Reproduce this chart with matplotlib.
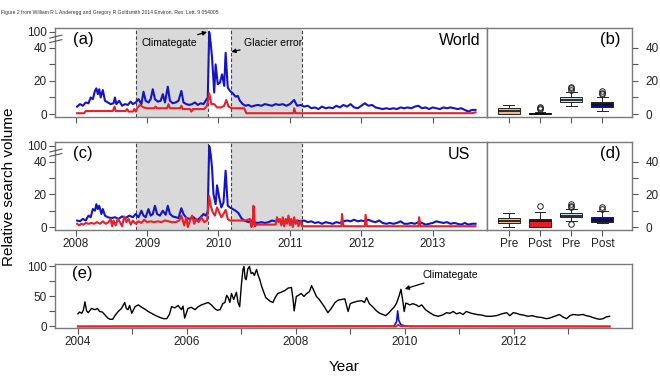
import numpy as np
import matplotlib
matplotlib.use('Agg')
import matplotlib.pyplot as plt
import matplotlib.transforms as mtransforms

plt.rcParams['font.family'] = ['Liberation Sans', 'DejaVu Sans']

# ---- data: (decimal year, relative search volume) ----
world_blue = [
    (2008.02, 4.5), (2008.06, 6), (2008.10, 5), (2008.14, 7), (2008.18, 6.5), (2008.21, 10),
    (2008.24, 9), (2008.27, 14), (2008.29, 15.5), (2008.31, 12), (2008.33, 15), (2008.35, 10),
    (2008.38, 14.5), (2008.41, 8), (2008.45, 7), (2008.49, 6), (2008.53, 6.5), (2008.55, 10),
    (2008.57, 6), (2008.61, 8), (2008.65, 5), (2008.69, 6), (2008.73, 5.5), (2008.77, 7.5),
    (2008.80, 6), (2008.84, 7), (2008.88, 9), (2008.92, 6), (2008.95, 13.5), (2008.98, 8),
    (2009.02, 7), (2009.05, 9), (2009.08, 15), (2009.11, 9), (2009.15, 7.5), (2009.19, 8),
    (2009.22, 12), (2009.25, 7), (2009.29, 16.5), (2009.32, 8), (2009.36, 6.5), (2009.40, 7),
    (2009.44, 8), (2009.48, 14), (2009.51, 7), (2009.55, 6), (2009.59, 5.5), (2009.63, 6),
    (2009.67, 7), (2009.71, 5.5), (2009.75, 6.5), (2009.79, 6), (2009.82, 8), (2009.85, 10),
    (2009.87, 100), (2009.89, 60), (2009.91, 34), (2009.94, 13), (2009.96, 30), (2009.99, 18),
    (2010.02, 19), (2010.05, 24), (2010.08, 17), (2010.10, 37), (2010.13, 16), (2010.16, 14),
    (2010.20, 12.5), (2010.24, 10.5), (2010.27, 11), (2010.30, 8), (2010.34, 6), (2010.38, 5),
    (2010.42, 5.5), (2010.46, 4.5), (2010.50, 5), (2010.55, 5.5), (2010.60, 5), (2010.65, 6),
    (2010.70, 5.5), (2010.75, 5), (2010.80, 6), (2010.85, 5.5), (2010.90, 6), (2010.95, 5),
    (2011.00, 6), (2011.06, 8.5), (2011.10, 5), (2011.15, 5.5), (2011.20, 4.5), (2011.25, 5),
    (2011.30, 3.5), (2011.35, 4), (2011.40, 3), (2011.45, 4.5), (2011.50, 3.5), (2011.55, 4),
    (2011.60, 3.5), (2011.65, 5), (2011.70, 4), (2011.75, 5.5), (2011.80, 4.5), (2011.85, 6),
    (2011.90, 4), (2011.95, 3.5), (2012.00, 5), (2012.05, 6.5), (2012.10, 5), (2012.15, 5.5),
    (2012.20, 4), (2012.25, 3.5), (2012.30, 3), (2012.35, 3.5), (2012.40, 3), (2012.45, 3.5),
    (2012.50, 3), (2012.55, 4), (2012.60, 3.5), (2012.65, 4), (2012.70, 3.5), (2012.75, 4.5),
    (2012.80, 5), (2012.85, 3.5), (2012.90, 4), (2012.95, 3), (2013.00, 4), (2013.05, 3.5),
    (2013.10, 3), (2013.15, 4), (2013.20, 3.5), (2013.25, 4), (2013.30, 3.5), (2013.35, 3),
    (2013.40, 3.5), (2013.45, 2.5), (2013.50, 1.5), (2013.55, 2.5), (2013.60, 2.5),
]
world_red = [
    (2008.02, 0.5), (2008.12, 0.5), (2008.14, 1.8), (2008.40, 1.8), (2008.52, 1.8), (2008.545, 4.5),
    (2008.56, 1.8), (2008.70, 1.8), (2008.72, 3), (2008.74, 1.5), (2008.80, 1.5), (2008.82, 3),
    (2008.84, 1.5), (2008.86, 3.5), (2008.90, 5.5), (2008.95, 4), (2009.00, 3.5), (2009.10, 3.5),
    (2009.12, 4.5), (2009.14, 3.5), (2009.28, 3.5), (2009.30, 6), (2009.32, 3.5), (2009.46, 3.5),
    (2009.48, 5), (2009.50, 3), (2009.60, 3), (2009.62, 1.5), (2009.64, 3), (2009.80, 3),
    (2009.84, 5), (2009.87, 12.5), (2009.90, 6), (2009.94, 6), (2009.98, 4), (2010.04, 4),
    (2010.08, 5), (2010.11, 8.5), (2010.14, 4.5), (2010.18, 3.5), (2010.36, 3.5), (2010.39, 0.5),
    (2011.05, 0.5), (2011.06, 3.5), (2011.08, 0.5), (2013.55, 0.5), (2013.60, 1),
]
us_blue = [
    (2008.02, 4), (2008.06, 3.5), (2008.10, 5), (2008.14, 4), (2008.18, 7), (2008.21, 6),
    (2008.24, 11), (2008.27, 10), (2008.29, 14), (2008.31, 11), (2008.33, 13), (2008.36, 8),
    (2008.38, 11), (2008.41, 7), (2008.45, 6), (2008.50, 5.5), (2008.55, 6), (2008.60, 5),
    (2008.65, 6.5), (2008.70, 5.5), (2008.75, 7), (2008.80, 6), (2008.84, 8), (2008.88, 6),
    (2008.92, 10), (2008.95, 7), (2008.98, 6), (2009.02, 11), (2009.05, 7), (2009.08, 8),
    (2009.11, 13), (2009.14, 8), (2009.18, 7), (2009.22, 10), (2009.26, 7.5), (2009.29, 13),
    (2009.32, 8), (2009.36, 6.5), (2009.40, 6), (2009.44, 5.5), (2009.48, 11.5), (2009.51, 8),
    (2009.55, 5.5), (2009.60, 5), (2009.65, 6), (2009.70, 4), (2009.75, 6), (2009.79, 8),
    (2009.82, 7), (2009.85, 9.5), (2009.87, 100), (2009.89, 70), (2009.91, 36), (2009.93, 20),
    (2009.96, 14), (2009.98, 25.5), (2010.01, 18), (2010.04, 12), (2010.07, 15), (2010.10, 34.5),
    (2010.13, 13), (2010.16, 12), (2010.20, 11), (2010.24, 10), (2010.28, 8.5), (2010.32, 5.5),
    (2010.36, 4), (2010.42, 3), (2010.46, 4), (2010.50, 3), (2010.55, 2.5), (2010.60, 3),
    (2010.65, 2.5), (2010.70, 3), (2010.75, 4), (2010.80, 3.5), (2010.85, 4), (2010.90, 3),
    (2010.95, 3.5), (2011.00, 4), (2011.05, 3), (2011.10, 4), (2011.15, 3.5), (2011.20, 4),
    (2011.25, 3), (2011.30, 3.5), (2011.35, 2.5), (2011.40, 3), (2011.45, 2), (2011.50, 3),
    (2011.55, 2.5), (2011.60, 2), (2011.65, 3), (2011.70, 2.5), (2011.75, 3.5), (2011.80, 4),
    (2011.85, 3.5), (2011.90, 4.5), (2011.95, 3.5), (2012.00, 4), (2012.05, 3.5), (2012.10, 4.5),
    (2012.15, 3.5), (2012.20, 3), (2012.25, 4), (2012.30, 2.5), (2012.35, 2), (2012.40, 2.5),
    (2012.45, 2), (2012.50, 2.5), (2012.55, 3.5), (2012.60, 2), (2012.65, 2), (2012.70, 2.5),
    (2012.75, 2), (2012.80, 3), (2012.85, 2.5), (2012.90, 1.5), (2012.95, 2), (2013.00, 2.5),
    (2013.05, 3.5), (2013.10, 3), (2013.15, 2.5), (2013.20, 3), (2013.25, 2), (2013.30, 2.5),
    (2013.35, 2), (2013.40, 1.5), (2013.45, 2.5), (2013.50, 1.5), (2013.55, 2), (2013.60, 2),
]
us_red = [
    (2008.02, 2), (2008.05, 1), (2008.08, 2), (2008.11, 1.5), (2008.14, 2.5), (2008.18, 2),
    (2008.22, 2.5), (2008.26, 2), (2008.30, 3), (2008.34, 2), (2008.38, 3.5), (2008.42, 2),
    (2008.46, 3), (2008.49, 5), (2008.51, 0.5), (2008.53, 4), (2008.56, 1), (2008.59, 5),
    (2008.62, 3), (2008.65, 0.5), (2008.68, 6.5), (2008.71, 3), (2008.74, 5), (2008.77, 1.5),
    (2008.80, 4), (2008.84, 2), (2008.88, 3.5), (2008.92, 2.5), (2008.96, 4.5), (2009.00, 3),
    (2009.05, 3.5), (2009.10, 3), (2009.15, 3.5), (2009.20, 3), (2009.25, 4), (2009.30, 3.5),
    (2009.35, 3), (2009.40, 3), (2009.45, 4), (2009.48, 7), (2009.50, 4), (2009.52, 1),
    (2009.55, 6), (2009.57, 0), (2009.60, 4), (2009.63, 7), (2009.66, 2), (2009.69, 5),
    (2009.72, 3), (2009.76, 6), (2009.80, 3), (2009.84, 4), (2009.87, 19), (2009.89, 13),
    (2009.92, 9), (2009.95, 7), (2009.98, 12), (2010.01, 9), (2010.04, 6), (2010.07, 8),
    (2010.10, 10.5), (2010.13, 5), (2010.16, 4), (2010.22, 4), (2010.30, 4), (2010.38, 4),
    (2010.44, 5), (2010.46, 0), (2010.48, 2), (2010.49, 13), (2010.51, 0.5), (2010.53, 1.5),
    (2010.80, 1.5), (2010.82, 6), (2010.84, 3), (2010.86, 5), (2010.88, 1), (2010.90, 6),
    (2010.92, 0.5), (2010.94, 5), (2010.96, 2), (2010.98, 7), (2011.00, 1), (2011.02, 5),
    (2011.04, 0), (2011.06, 6), (2011.08, 2), (2011.10, 4), (2011.12, 0.5), (2011.15, 4),
    (2011.17, 0.5), (2011.72, 0.5), (2011.73, 8), (2011.75, 0.5), (2012.05, 0.5), (2012.06, 7.5),
    (2012.08, 0.5), (2012.80, 0.5), (2012.81, 6), (2012.83, 0.5), (2013.60, 0.5),
]
long_black = [
    (2004.00, 21), (2004.03, 24), (2004.07, 22), (2004.10, 27), (2004.13, 41), (2004.16, 26),
    (2004.19, 23), (2004.25, 30), (2004.31, 28), (2004.36, 30), (2004.40, 25), (2004.45, 24),
    (2004.50, 19), (2004.55, 14), (2004.59, 12), (2004.64, 12), (2004.68, 18), (2004.74, 25),
    (2004.80, 30), (2004.86, 40), (2004.89, 30), (2004.92, 28), (2004.95, 35), (2004.99, 22),
    (2005.05, 33), (2005.11, 36), (2005.17, 32), (2005.23, 29), (2005.29, 25), (2005.35, 22),
    (2005.41, 19), (2005.48, 16), (2005.54, 14), (2005.58, 13), (2005.63, 13), (2005.68, 20),
    (2005.72, 33), (2005.78, 31), (2005.84, 35), (2005.90, 28), (2005.93, 34), (2005.96, 14),
    (2006.02, 30), (2006.08, 32), (2006.15, 28), (2006.21, 33), (2006.27, 36), (2006.33, 38),
    (2006.39, 40), (2006.45, 36), (2006.51, 30), (2006.56, 27), (2006.61, 28), (2006.66, 38),
    (2006.70, 40), (2006.73, 52), (2006.76, 48), (2006.79, 40), (2006.82, 55), (2006.86, 45),
    (2006.91, 57), (2006.94, 40), (2006.97, 33), (2007.00, 68), (2007.03, 95), (2007.05, 100),
    (2007.07, 80), (2007.09, 78), (2007.12, 96), (2007.15, 100), (2007.18, 88), (2007.21, 90),
    (2007.24, 85), (2007.28, 95), (2007.31, 85), (2007.34, 78), (2007.37, 68), (2007.40, 60),
    (2007.45, 48), (2007.49, 45), (2007.53, 42), (2007.58, 40), (2007.62, 48), (2007.67, 55),
    (2007.73, 57), (2007.80, 60), (2007.86, 64), (2007.92, 65), (2007.95, 45), (2007.97, 26),
    (2008.01, 50), (2008.05, 52), (2008.10, 55), (2008.15, 50), (2008.20, 55), (2008.25, 58),
    (2008.29, 68), (2008.33, 60), (2008.38, 50), (2008.43, 45), (2008.47, 40), (2008.53, 32),
    (2008.59, 23), (2008.65, 30), (2008.72, 40), (2008.78, 44), (2008.84, 45), (2008.90, 46),
    (2008.96, 25), (2009.00, 38), (2009.05, 40), (2009.13, 42), (2009.21, 43), (2009.26, 40),
    (2009.30, 48), (2009.35, 38), (2009.42, 32), (2009.48, 26), (2009.54, 22), (2009.60, 20),
    (2009.65, 18), (2009.70, 22), (2009.76, 28), (2009.81, 33), (2009.85, 39), (2009.90, 52),
    (2009.93, 62), (2009.96, 45), (2009.99, 25), (2010.02, 39), (2010.05, 38), (2010.09, 36),
    (2010.15, 38), (2010.21, 36), (2010.26, 33), (2010.31, 36), (2010.38, 28), (2010.46, 23),
    (2010.53, 19), (2010.61, 17), (2010.69, 19), (2010.77, 23), (2010.83, 22), (2010.89, 25),
    (2010.95, 21), (2011.01, 23), (2011.07, 20), (2011.13, 25), (2011.22, 22), (2011.32, 20),
    (2011.41, 19), (2011.50, 17), (2011.59, 17), (2011.68, 18), (2011.78, 21), (2011.87, 23),
    (2011.93, 18), (2011.99, 23), (2012.05, 22), (2012.11, 20), (2012.18, 19), (2012.26, 17),
    (2012.34, 18), (2012.42, 16), (2012.51, 15), (2012.60, 13), (2012.66, 14), (2012.72, 16),
    (2012.78, 18), (2012.84, 20), (2012.90, 16), (2012.97, 13), (2013.03, 18), (2013.09, 20),
    (2013.18, 19), (2013.27, 20), (2013.33, 18), (2013.39, 17), (2013.45, 15), (2013.52, 13),
    (2013.58, 12), (2013.64, 13), (2013.70, 16), (2013.76, 17),
]
long_blue = [(2004.00, 0), (2009.80, 0.5), (2009.85, 8), (2009.87, 26), (2009.89, 10),
             (2009.93, 3), (2010.00, 1), (2010.10, 0), (2013.76, 0)]
long_red = [(2004.00, 0), (2009.84, 0), (2009.88, 3), (2009.92, 0.5), (2013.76, 0)]

pre_window = (2008.85, 2009.86)
post_window = (2010.18, 2011.17)

box_labels = ['Pre', 'Post', 'Pre', 'Post']
box_colors = ['#F2B98E', '#E41E26', '#C5E1EA', '#0C0C9C']
# q1, median, q3, lower whisker, upper whisker, outliers
world_boxes = [
    (0, 2, 3.6, 0, 5.5, []),
    (0, 0.3, 0.6, 0, 1.5, [3, 3.5, 4]),
    (7, 8.5, 10.5, 5, 13.5, [14.5, 15.5, 16.5]),
    (4, 5.5, 7.5, 2, 10.5, [12, 13, 14]),
]
us_boxes = [
    (2.5, 4, 5.5, 0, 8.5, []),
    (0, 3.5, 5, 0, 9, [13]),
    (6, 7, 8.5, 4, 11, [2, 12, 13, 14]),
    (3, 4.5, 6, 2.5, 10, [11, 12]),
]

BLUE = '#1414C4'
RED = '#E8202A'
GRID = '#7A7A7A'
years_ac = [2008, 2009, 2010, 2011, 2012, 2013]


def fwd(y):
    y = np.asarray(y, dtype=float)
    return np.where(y <= 40, y, 40 + (y - 40) * 0.16)


def inv(v):
    v = np.asarray(v, dtype=float)
    return np.where(v <= 40, v, 40 + (v - 40) / 0.16)


def style(ax):
    for s in ax.spines.values():
        s.set_color(GRID)
        s.set_linewidth(1.0)
    ax.tick_params(direction='out', length=4, width=0.8, color='#555555',
                   labelsize=8.5, labelcolor='#222222', pad=2)


def time_panel(ax, blue, red, tag, region, xlabels):
    ax.axvspan(*pre_window, color='#D9D9D9', lw=0, zorder=0)
    ax.axvspan(*post_window, color='#D9D9D9', lw=0, zorder=0)
    for x in pre_window + post_window:
        ax.axvline(x, color='#444444', ls=(0, (3, 2)), lw=0.8, zorder=1)
    b = np.array(blue)
    r = np.array(red)
    ax.plot(b[:, 0], b[:, 1], color=BLUE, lw=1.5, zorder=3)
    ax.plot(r[:, 0], r[:, 1], color=RED, lw=1.5, zorder=4)
    ax.set_yscale('function', functions=(fwd, inv))
    ax.set_ylim(-1.8, 115)
    ax.set_xlim(2007.71, 2013.76)
    ax.set_yticks([0, 10, 20, 30, 40, 100])
    ax.set_yticklabels(['0', '', '20', '', '40', '100'])
    ax.set_xticks(years_ac)
    ax.set_xticklabels([str(y) for y in years_ac] if xlabels else [])
    style(ax)
    ax.text(0.042, 0.875, tag, transform=ax.transAxes, fontsize=12, va='center')
    ax.text(0.985 if region == 'World' else 0.96, 0.86, region, transform=ax.transAxes,
            fontsize=11.5, va='center', ha='right')
    # axis break marks on the left spine
    tr = mtransforms.blended_transform_factory(ax.transAxes, ax.transData)
    for y0, y1 in [(60, 71), (77, 88)]:
        ax.plot([-0.012, 0.016], [y0, y1], color='#555555', lw=0.8,
                transform=tr, clip_on=False, zorder=5)


def box_panel(ax, boxes, tag, xlabels):
    stats = []
    for q1, med, q3, lo, hi, out in boxes:
        stats.append(dict(q1=q1, med=med, q3=q3, whislo=lo, whishi=hi, fliers=out))
    bp = ax.bxp(stats, positions=[1, 2, 3, 4], widths=0.7, patch_artist=True,
                capwidths=0.35,
                boxprops=dict(edgecolor='#222222', linewidth=0.7),
                medianprops=dict(color='#111111', linewidth=1.2),
                whiskerprops=dict(color='#222222', linewidth=0.7),
                capprops=dict(color='#222222', linewidth=0.7),
                flierprops=dict(marker='o', mfc='none', mec='#222222', ms=4, mew=0.7))
    for patch, c in zip(bp['boxes'], box_colors):
        patch.set_facecolor(c)
    ax.set_xlim(0.3, 4.95)
    ax.set_ylim(-1.8, 52)
    ax.set_xticks([1, 2, 3, 4])
    ax.set_xticklabels(box_labels if xlabels else [])
    ax.yaxis.tick_right()
    ax.set_yticks([0, 10, 20, 30, 40])
    ax.set_yticklabels(['0', '', '20', '', '40'])
    style(ax)
    ax.tick_params(axis='y', pad=6)
    ax.text(0.92, 0.87, tag, transform=ax.transAxes, fontsize=12, va='center', ha='right')


fig = plt.figure(figsize=(6.6, 3.76), dpi=100)

ax_a = fig.add_axes([0.0833, 0.6888, 0.6545, 0.2367])
ax_b = fig.add_axes([0.7379, 0.6888, 0.2197, 0.2367])
ax_c = fig.add_axes([0.0833, 0.3883, 0.6545, 0.2340])
ax_d = fig.add_axes([0.7379, 0.3883, 0.2197, 0.2340])
ax_e = fig.add_axes([0.0833, 0.1277, 0.8742, 0.1700])

time_panel(ax_a, world_blue, world_red, '(a)', 'World', False)
time_panel(ax_c, us_blue, us_red, '(c)', 'US', True)
box_panel(ax_b, world_boxes, '(b)', False)
box_panel(ax_d, us_boxes, '(d)', True)

arrow = dict(arrowstyle='-|>', color='k', lw=0.9, mutation_scale=6, shrinkA=1, shrinkB=0)
ax_a.annotate('Climategate', xy=(2009.84, 100), xytext=(2008.92, 59), fontsize=7.5,
              ha='left', va='center', arrowprops=arrow, zorder=6)
ax_a.annotate('Glacier error', xy=(2010.18, 37.6), xytext=(2010.36, 59), fontsize=7.5,
              ha='left', va='center', arrowprops=arrow, zorder=6)

# (e) long-term series
lb = np.array(long_black)
lbl = np.array(long_blue)
lr = np.array(long_red)
ax_e.plot(lb[:, 0], lb[:, 1], color='k', lw=1.0, zorder=3)
ax_e.plot(lbl[:, 0], lbl[:, 1], color=BLUE, lw=1.2, zorder=2)
ax_e.plot(lr[:, 0], lr[:, 1], color=RED, lw=1.4, zorder=2)
ax_e.set_xlim(2003.58, 2014.17)
ax_e.set_ylim(-2.5, 104)
ax_e.set_xticks(range(2004, 2014))
ax_e.set_xticklabels([str(y) if y % 2 == 0 else '' for y in range(2004, 2014)])
ax_e.set_yticks([0, 25, 50, 75, 100])
ax_e.set_yticklabels(['0', '', '50', '', '100'])
style(ax_e)
ax_e.text(0.03, 0.86, '(e)', transform=ax_e.transAxes, fontsize=12, va='center')
ax_e.annotate('Climategate', xy=(2010.0, 62.5), xytext=(2010.33, 86), fontsize=7.5,
              ha='left', va='center', arrowprops=arrow, zorder=6)

fig.text(0.014, 0.503, 'Relative search volume', rotation=90, fontsize=11,
         ha='center', va='center')
fig.text(0.521, 0.024, 'Year', fontsize=11, ha='center', va='center')
fig.text(0.002, 0.968, 'Figure 2 from William R L Anderegg and Gregory R Goldsmith 2014 '
         'Environ. Res. Lett. 9 054005', fontsize=3.6, color='#333333', va='center')

fig.savefig('out.png', dpi=100)
